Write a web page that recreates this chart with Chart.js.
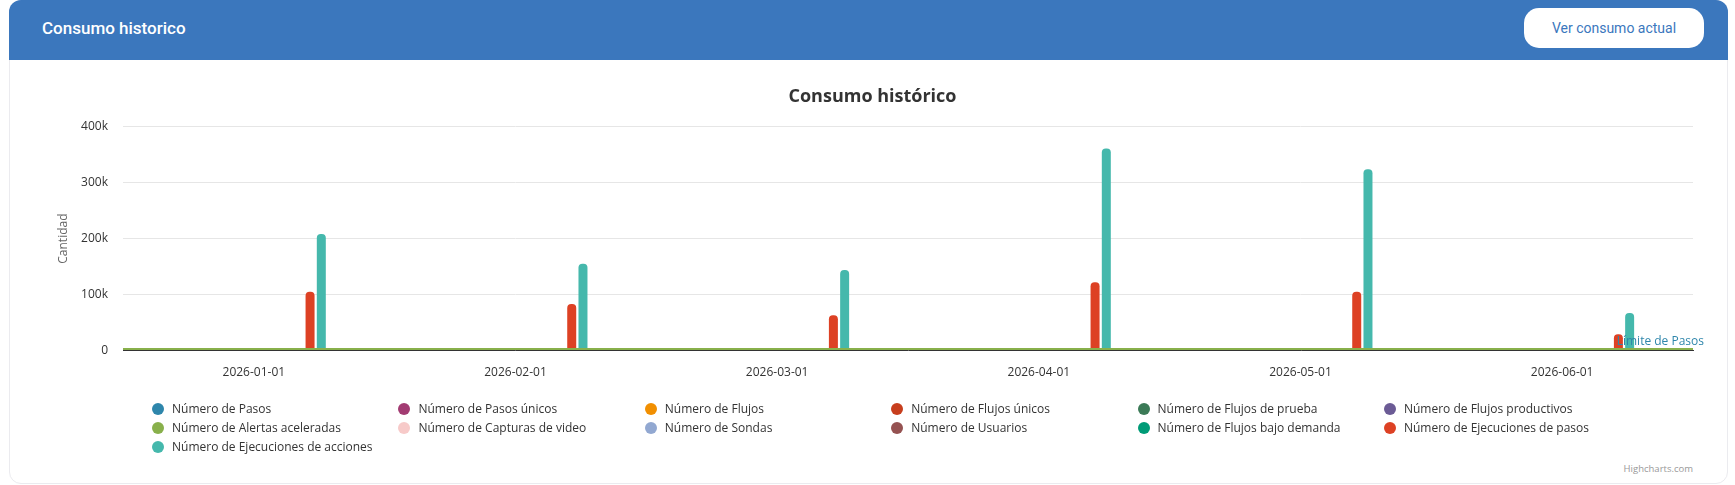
<!DOCTYPE html>
<html lang="es">
<head>
<meta charset="utf-8">
<title>Consumo historico</title>
<script src="https://cdn.jsdelivr.net/npm/chart.js@4.4.1/dist/chart.umd.min.js"></script>
<style>
  html, body { margin: 0; padding: 0; background: #fff; }
  body { width: 1735px; height: 485px; position: relative; overflow: hidden; font-family: Roboto, "Open Sans", sans-serif; }
  .card { position: absolute; left: 9px; top: 0; width: 1719px; height: 484px; box-sizing: border-box;
          border: 1px solid #ebebef; border-radius: 12px; background: #fff; }
  .card-header { position: absolute; left: 9px; top: 0; width: 1719px; height: 60px; background: #3b77bd;
                 border-radius: 12px 12px 0 0; }
  .card-header h2 { margin: 0; position: absolute; left: 33px; top: 0; line-height: 56px;
                    font-size: 17px; font-weight: 500; color: #fff; }
  .btn { position: absolute; left: 1515px; top: 8px; width: 180px; height: 40px; border-radius: 15px;
         background: #fff; color: #3b77bd; font-size: 14px; line-height: 40px; text-align: center; }
  .chart-wrap { position: absolute; left: 18px; top: 60px; width: 1710px; height: 348px; }
  .legend { position: absolute; left: 152px; top: 399px; display: grid;
            grid-template-columns: repeat(6, 246.4px); grid-auto-rows: 19px;
            font-family: "Open Sans", sans-serif; font-size: 12px; color: #333; }
  .legend-item { display: flex; align-items: center; white-space: nowrap; }
  .legend-dot { width: 12px; height: 12px; border-radius: 50%; margin-right: 8px; flex: none; }
  .credits { position: absolute; right: 42px; top: 462px; font-family: "Open Sans", sans-serif;
             font-size: 9.5px; color: #999; }
</style>
</head>
<body>
<div class="card"></div>
<div class="card-header">
  <h2>Consumo historico</h2>
  <div class="btn">Ver consumo actual</div>
</div>
<div class="chart-wrap"><canvas id="consumo"></canvas></div>
<div class="legend" id="legend"></div>
<div class="credits">Highcharts.com</div>

<script>
// Monthly consumption; only the two "Ejecuciones" series carry visible volume,
// everything else sits at zero for these months.
const meses = ['2026-01-01', '2026-02-01', '2026-03-01', '2026-04-01', '2026-05-01', '2026-06-01'];

const numeroDePasos = [0, 0, 0, 0, 0, 0];
const numeroDePasosUnicos = [0, 0, 0, 0, 0, 0];
const numeroDeFlujos = [0, 0, 0, 0, 0, 0];
const numeroDeFlujosUnicos = [0, 0, 0, 0, 0, 0];
const numeroDeFlujosDePrueba = [0, 0, 0, 0, 0, 0];
const numeroDeFlujosProductivos = [0, 0, 0, 0, 0, 0];
const numeroDeAlertasAceleradas = [0, 0, 0, 0, 0, 0];
const numeroDeCapturasDeVideo = [0, 0, 0, 0, 0, 0];
const numeroDeSondas = [0, 0, 0, 0, 0, 0];
const numeroDeUsuarios = [0, 0, 0, 0, 0, 0];
const numeroDeFlujosBajoDemanda = [0, 0, 0, 0, 0, 0];
const ejecucionesDePasos = [105000, 83000, 63000, 122000, 105000, 29000];
const ejecucionesDeAcciones = [208000, 155000, 144000, 361000, 324000, 67000];

const seriesNames = [
  'Número de Pasos', 'Número de Pasos únicos', 'Número de Flujos', 'Número de Flujos únicos',
  'Número de Flujos de prueba', 'Número de Flujos productivos', 'Número de Alertas aceleradas',
  'Número de Capturas de video', 'Número de Sondas', 'Número de Usuarios',
  'Número de Flujos bajo demanda', 'Número de Ejecuciones de pasos', 'Número de Ejecuciones de acciones',
];
const seriesColors = [
  '#2E86AB', '#A23B72', '#F18F01', '#C73E1D', '#3B7A57', '#6B5B95', '#88B04B',
  '#F7CAC9', '#92A8D1', '#955251', '#009B77', '#DD4124', '#45B8AC',
];
const seriesValues = [
  numeroDePasos, numeroDePasosUnicos, numeroDeFlujos, numeroDeFlujosUnicos,
  numeroDeFlujosDePrueba, numeroDeFlujosProductivos, numeroDeAlertasAceleradas,
  numeroDeCapturasDeVideo, numeroDeSondas, numeroDeUsuarios,
  numeroDeFlujosBajoDemanda, ejecucionesDePasos, ejecucionesDeAcciones,
];

const yTicks = [0, 100000, 200000, 300000, 400000];
const limiteDePasos = 0;
const limiteLabel = 'Límite de Pasos';

Chart.defaults.font.family = '"Open Sans", sans-serif';
Chart.defaults.font.size = 12;

// Horizontal reference line (with its label) placed through the y scale.
const limitePlugin = {
  id: 'limiteDePasos',
  afterDatasetsDraw(chart) {
    const { ctx, chartArea, scales } = chart;
    const y = scales.y.getPixelForValue(limiteDePasos);
    ctx.save();
    ctx.strokeStyle = '#88B04B';
    ctx.lineWidth = 2;
    ctx.beginPath();
    ctx.moveTo(chartArea.left, y - 1.5);
    ctx.lineTo(chartArea.right, y - 1.5);
    ctx.stroke();
    ctx.font = '12px "Open Sans", sans-serif';
    ctx.fillStyle = '#2E86AB';
    ctx.textAlign = 'right';
    ctx.textBaseline = 'middle';
    ctx.fillText(limiteLabel, chartArea.right + 11, y - 9);
    ctx.restore();
  },
};

const datasets = seriesNames.map((name, i) => ({
  label: name,
  data: seriesValues[i],
  backgroundColor: seriesColors[i],
  borderWidth: 0,
  borderRadius: 4,
  borderSkipped: 'start',
  categoryPercentage: 0.5587,
  barPercentage: 0.8,
}));

new Chart(document.getElementById('consumo'), {
  type: 'bar',
  data: { labels: meses, datasets },
  plugins: [limitePlugin],
  options: {
    responsive: true,
    maintainAspectRatio: false,
    animation: false,
    events: [],
    layout: { padding: { left: 34, right: 35, top: 0, bottom: 13 } },
    scales: {
      x: {
        grid: { display: false, drawTicks: false },
        border: { display: true, color: '#333333', width: 1 },
        ticks: { color: '#333333', padding: 15, maxRotation: 0 },
      },
      y: {
        min: yTicks[0],
        max: yTicks[yTicks.length - 1],
        afterBuildTicks: (scale) => { scale.ticks = yTicks.map((v) => ({ value: v })); },
        afterFit: (scale) => { scale.width = 71; },
        ticks: {
          color: '#333333',
          padding: 15,
          callback: (v) => (v === 0 ? '0' : `${v / 1000}k`),
        },
        grid: { color: '#e6e6e6', drawTicks: false },
        border: { display: false },
        title: { display: true, text: 'Cantidad', color: '#666666', padding: { top: 4, bottom: 9 } },
      },
    },
    plugins: {
      legend: { display: false },
      tooltip: { enabled: false },
      title: {
        display: true,
        text: 'Consumo histórico',
        color: '#333333',
        font: { size: 18, weight: 'bold' },
        padding: { top: 26, bottom: 19 },
      },
    },
  },
});

// Legend in a fixed six-column grid, built from the same series arrays.
const legendEl = document.getElementById('legend');
seriesNames.forEach((name, i) => {
  const item = document.createElement('div');
  item.className = 'legend-item';
  const dot = document.createElement('span');
  dot.className = 'legend-dot';
  dot.style.background = seriesColors[i];
  const text = document.createElement('span');
  text.textContent = name;
  item.append(dot, text);
  legendEl.appendChild(item);
});
</script>
</body>
</html>
